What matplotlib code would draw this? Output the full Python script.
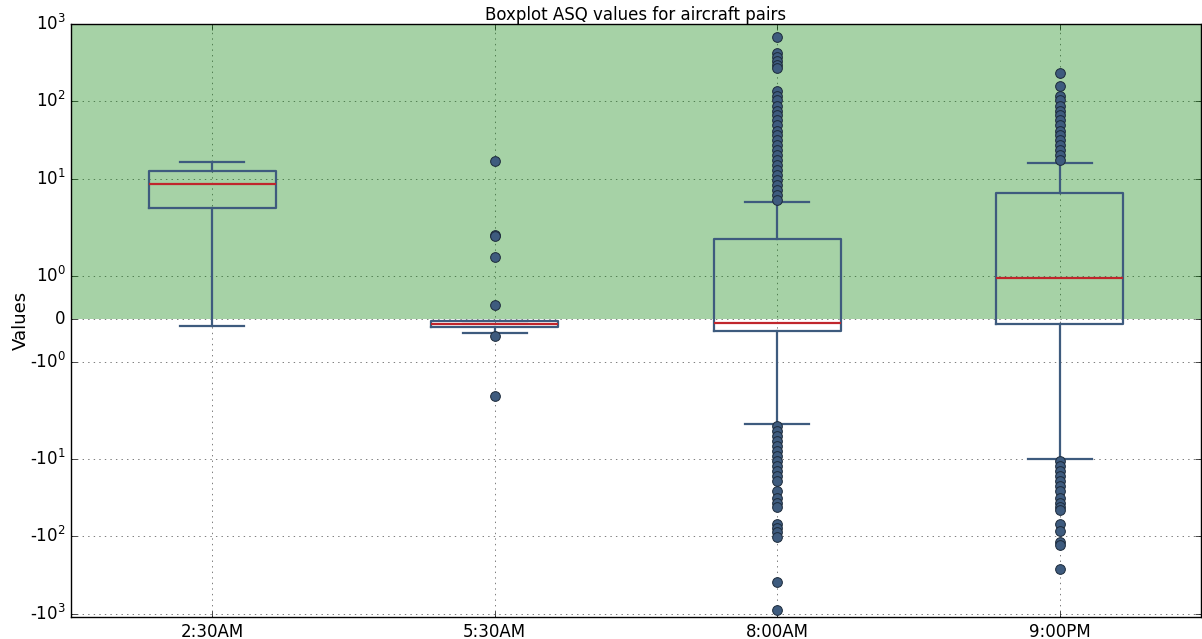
import matplotlib
matplotlib.use('Agg')
import matplotlib.pyplot as plt
from matplotlib.ticker import FixedLocator, FixedFormatter, NullLocator

# ---- data ----
labels = ['2:30AM', '5:30AM', '8:00AM', '9:00PM']
q1 = [4.2, -0.19, -0.28, -0.115]
medians = [8.6, -0.115, -0.085, 0.96]
q3 = [12.6, -0.04, 1.86, 6.5]
whislo = [-0.16, -0.32, -3.5, -9.9]
whishi = [16.4, -0.04, 5.0, 16.2]

fliers_0230 = []
fliers_0530 = [16.9, 1.96, 1.92, 1.43, 0.32, -0.40, -1.79]
fliers_0800 = [684, 423, 376, 333, 297, 272, 138, 119, 103, 88, 76, 66, 57, 49,
               42, 36.5, 31.5, 27, 23.4, 20.2, 17.4, 15, 13, 11.2, 9.7, 8.3,
               7.2, 6.2, 5.4,
               -3.8, -4.4, -5.0, -5.9, -6.8, -7.9, -9.1, -10.5, -12.2, -14.2,
               -16.4, -19.1, -25.6, -31.5, -36.5, -42.3, -70, -79, -89, -102,
               -386, -900]
fliers_0900 = [232, 156, 119, 103, 88, 76, 66, 57, 49, 42, 36.5, 31.5, 27,
               23.4, 20.2, 17.4,
               -10.5, -12.2, -14.2, -16.4, -19.1, -22.1, -25.6, -31.5, -36.5,
               -42.3, -46, -70, -84, -119, -130, -264]
fliers = [fliers_0230, fliers_0530, fliers_0800, fliers_0900]

ytick_values = [-1000, -100, -10, -1, 0, 1, 10, 100, 1000]
ytick_labels = ['-$\\mathdefault{10^{3}}$', '-$\\mathdefault{10^{2}}$',
                '-$\\mathdefault{10^{1}}$', '-$\\mathdefault{10^{0}}$', '0',
                '$\\mathdefault{10^{0}}$', '$\\mathdefault{10^{1}}$',
                '$\\mathdefault{10^{2}}$', '$\\mathdefault{10^{3}}$']

# ---- plot ----
plt.style.use('classic')
plt.rcParams['font.family'] = ['DejaVu Sans']
plt.rcParams['mathtext.fontset'] = 'dejavusans'

fig = plt.figure(figsize=(12.02, 6.39), dpi=100, facecolor='white')
ax = fig.add_axes([71 / 1202, (639 - 617) / 639, 1130 / 1202, (617 - 24) / 639])
ax.set_facecolor('white')
ax.set_yscale('symlog', linthresh=2, linscale=1)

box_color = '#3e5b7e'
red = '#c0262c'
stats = []
for i in range(len(labels)):
    stats.append(dict(label=labels[i], med=medians[i], q1=q1[i], q3=q3[i],
                      whislo=whislo[i], whishi=whishi[i], fliers=fliers[i]))

ax.bxp(stats, positions=[1, 2, 3, 4], widths=0.45, showfliers=True,
       boxprops=dict(color=box_color, linewidth=1.6),
       whiskerprops=dict(color=box_color, linewidth=1.6, linestyle='-'),
       capprops=dict(color=box_color, linewidth=1.6),
       medianprops=dict(color=red, linewidth=1.6),
       flierprops=dict(marker='o', markerfacecolor=box_color,
                       markeredgecolor='#1c2a3a', markeredgewidth=0.7,
                       markersize=7, linestyle='none'))

ax.axhspan(0, 1000, color='green', alpha=0.35, linewidth=0, zorder=1)

ax.set_xlim(0.5, 4.5)
ax.set_ylim(-1100, 1000)
ax.yaxis.set_major_locator(FixedLocator(ytick_values))
ax.yaxis.set_major_formatter(FixedFormatter(ytick_labels))
ax.yaxis.set_minor_locator(NullLocator())
ax.xaxis.set_minor_locator(NullLocator())

ax.grid(True, color='k', linestyle=':', linewidth=0.45, alpha=0.8)
ax.set_axisbelow(True)
ax.tick_params(direction='in', top=True, right=True, labelsize=12, length=4)

ax.set_title('Boxplot ASQ values for aircraft pairs', fontsize=12, pad=3)
ax.set_ylabel('Values', fontsize=13, labelpad=0)

fig.savefig('out.png', dpi=100, facecolor='white')
